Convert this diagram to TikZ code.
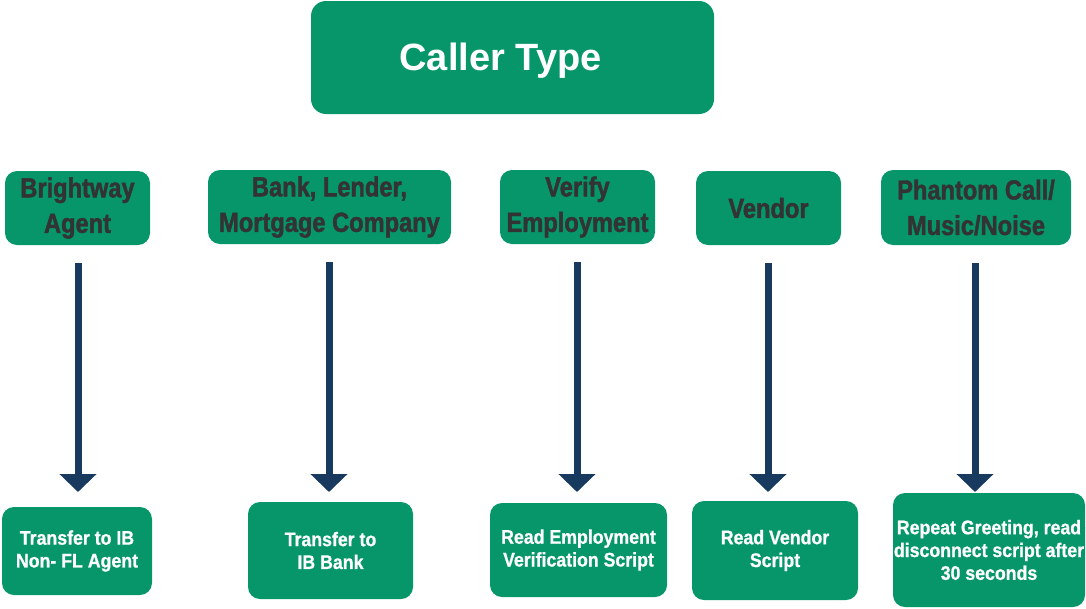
\documentclass[tikz,border=0pt]{standalone}
\usepackage{fontspec}
\setmainfont{Liberation Sans}
\newfontfamily\condbold[FakeStretch=0.86,FakeBold=1.6]{Liberation Sans Bold}
\newfontfamily\semibold[FakeStretch=0.9,FakeBold=0.8]{Liberation Sans Bold}
\usetikzlibrary{arrows.meta}
\definecolor{boxgreen}{HTML}{06966A}
\definecolor{navy}{HTML}{173A5E}
\definecolor{darktext}{HTML}{333333}
\tikzset{
  gbox/.style={draw=none, fill=boxgreen, rounded corners=12pt, align=center, inner sep=0pt},
  toptext/.style={font=\fontsize{38}{44}\selectfont\bfseries, text=white, inner sep=0pt},
  midtext/.style={font=\condbold\fontsize{27.5}{35.5}\selectfont, text=darktext},
  bottext/.style={font=\semibold\fontsize{19.7}{22.8}\selectfont, text=white},
  arr/.style={draw=navy, line width=7pt, -{Triangle[width=36pt,length=18pt]}, shorten <=18pt}
}
\begin{document}
\begin{tikzpicture}[x=1pt,y=-1pt]
\useasboundingbox (0,0) rectangle (1086,608);
% top
\node[gbox, rounded corners=15pt, minimum width=403pt, minimum height=113pt] (top) at (512.5,57.5) {};
\node[toptext] (toplabel) at (500.5,61) {Caller Type};
% middle row
\node[gbox, minimum width=145pt, minimum height=74pt, midtext] (m1) at (77.5,208) {Brightway\\Agent};
\node[gbox, minimum width=243pt, minimum height=74pt, midtext] (m2) at (329.5,207) {Bank, Lender,\\Mortgage Company};
\node[gbox, minimum width=155pt, minimum height=74pt, midtext] (m3) at (577.5,207) {Verify\\Employment};
\node[gbox, minimum width=145pt, minimum height=74pt, midtext] (m4) at (768.5,208) {Vendor};
\node[gbox, minimum width=190pt, minimum height=75pt, midtext] (m5) at (976,207.5) {Phantom Call/\\Music/Noise};
% bottom row
\node[gbox, minimum width=150pt, minimum height=88pt, bottext] (b1) at (77,551) {Transfer to IB\\Non- FL Agent};
\node[gbox, minimum width=165pt, minimum height=97pt, bottext] (b2) at (330.5,550.5) {Transfer to\\IB Bank};
\node[gbox, minimum width=177pt, minimum height=94pt, bottext] (b3) at (578.5,550) {Read Employment\\Verification Script};
\node[gbox, minimum width=166pt, minimum height=99pt, bottext] (b4) at (775,550.5) {Read Vendor\\Script};
\node[gbox, minimum width=192pt, minimum height=114pt, bottext] (b5) at (989,550) {Repeat Greeting, read\\disconnect script after\\30 seconds};
% arrow tips
\coordinate (t1) at (78,492);
\coordinate (t2) at (329,492);
\coordinate (t3) at (577,492);
\coordinate (t4) at (768,492);
\coordinate (t5) at (975,492);
\draw[arr] (m1.south -| t1) -- (t1);
\draw[arr] (m2.south -| t2) -- (t2);
\draw[arr] (m3.south -| t3) -- (t3);
\draw[arr] (m4.south -| t4) -- (t4);
\draw[arr] (m5.south -| t5) -- (t5);
\end{tikzpicture}
\end{document}
